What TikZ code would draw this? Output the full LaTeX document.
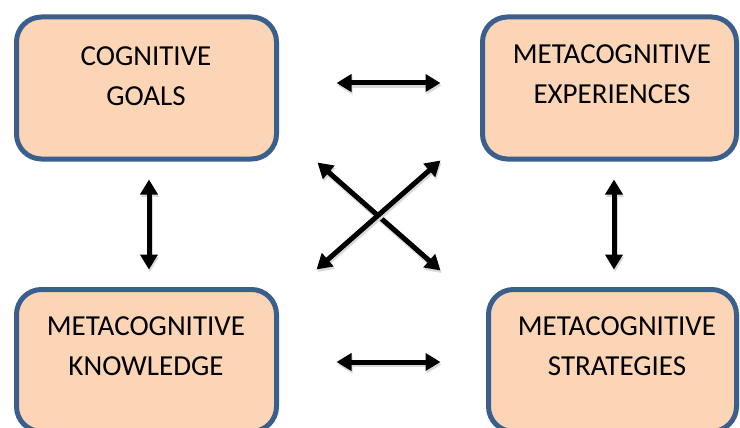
\documentclass[tikz,border=0pt]{standalone}
\usepackage{fontspec}
\newfontfamily\boxfont{Carlito}
\usetikzlibrary{arrows.meta}
\definecolor{boxfill}{HTML}{FBD5B5}
\definecolor{boxline}{HTML}{3B5F8C}
\tikzset{
  boxshape/.style={draw=boxline, fill=boxfill, line width=5pt, rounded corners=25pt,
    inner sep=0pt, minimum height=142pt},
  boxtext/.style={font=\boxfont\fontsize{29}{40}\selectfont, align=center, inner sep=0pt, text=black},
  dblarrow/.style={line width=5pt, {Triangle[length=15pt,width=17pt]}-{Triangle[length=15pt,width=17pt]},
    preaction={draw=black!15, line width=5pt, transform canvas={xshift=1pt,yshift=-2.5pt}}}
}
\begin{document}
\begin{tikzpicture}[x=1pt,y=-1pt]
\useasboundingbox (0,0) rectangle (740,428);
\clip (0,0) rectangle (740,428);
\fill[white] (0,0) rectangle (740,428);
% boxes
\node[boxshape, minimum width=260pt] (cg) at (146.5,88) {};
\node[boxshape, minimum width=254pt] (ce) at (609.5,88) {};
\node[boxshape, minimum width=260pt] (mk) at (146.5,360.5) {};
\node[boxshape, minimum width=248pt] (ms) at (612.5,360.5) {};
% texts
\node[boxtext] (cgt) at (146,76) {COGNITIVE\\GOALS};
\node[boxtext] (cet) at (612,74) {METACOGNITIVE\\EXPERIENCES};
\node[boxtext] (mkt) at (146,346.5) {METACOGNITIVE\\KNOWLEDGE};
\node[boxtext] (mst) at (617,346.5) {METACOGNITIVE\\STRATEGIES};
% arrows
\draw[dblarrow, shorten <=57.5pt, shorten >=39.5pt] ([yshift=5pt]cg.east) -- ([yshift=5pt]ce.west);
\draw[dblarrow, shorten <=57.5pt, shorten >=45.5pt] ([yshift=-1.5pt]mk.east) -- ([yshift=-1.5pt]ms.west);
\draw[dblarrow, shorten <=18pt, shorten >=17.5pt] ([xshift=2.5pt]cg.south) -- ([xshift=2.5pt]mk.north);
\draw[dblarrow, shorten <=18pt, shorten >=17.5pt] ([xshift=4.5pt]ce.south) -- ([xshift=1.5pt]ms.north);
\draw[dblarrow] ([xshift=38.5pt,yshift=-1pt]cg.south east) -- ([xshift=-45.5pt,yshift=16.5pt]ms.north west);
\draw[dblarrow] ([xshift=-39.5pt,yshift=1pt]ce.south west) -- ([xshift=37.5pt,yshift=17.5pt]mk.north east);
\end{tikzpicture}
\end{document}
